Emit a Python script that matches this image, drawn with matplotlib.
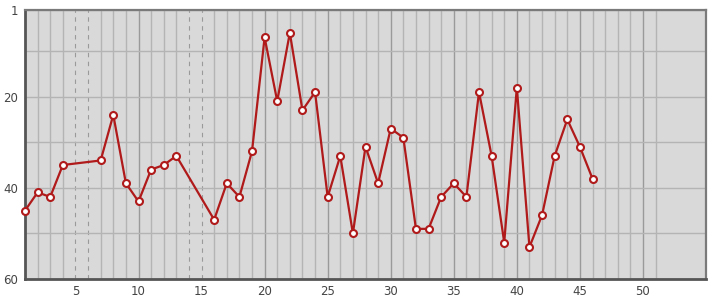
import matplotlib

matplotlib.use("Agg")
import matplotlib.pyplot as plt

# round number -> position (lower is better, axis inverted)
rounds = [1, 2, 3, 4, 7, 8, 9, 10, 11, 12, 13, 16, 17, 18, 19, 20, 21, 22, 23, 24,
          25, 26, 27, 28, 29, 30, 31, 32, 33, 34, 35, 36, 37, 38, 39, 40, 41, 42,
          43, 44, 45, 46]
positions = [45, 41, 42, 35, 34, 24, 39, 43, 36, 35, 33, 47, 39, 42, 32, 7, 21, 6, 23, 19,
             42, 33, 50, 31, 39, 27, 29, 49, 49, 42, 39, 42, 19, 33, 52, 18, 53, 46,
             33, 25, 31, 38]
x_ticks = [5, 10, 15, 20, 25, 30, 35, 40, 45, 50]
y_ticks = [1, 20, 40, 60]
y_grid = [10, 30, 50]
last_round = 51

# rounds skipped inside the played range get a dashed marker line
skipped = [r for r in range(min(rounds), max(rounds)) if r not in rounds]

fig = plt.figure(figsize=(7.15, 3.0), dpi=100)
ax = fig.add_axes([25 / 715, 21 / 300, 681 / 715, 269 / 300])
ax.set_facecolor("#d9d9d9")

for r in range(1, last_round + 1):
    if r in skipped:
        ax.axvline(r, color="#9a9a9a", linewidth=0.8, linestyle=(0, (4, 4)), zorder=1)
    elif r % 5 == 0:
        ax.axvline(r, color="#9a9a9a", linewidth=1.0, zorder=1)
    else:
        ax.axvline(r, color="#b4b4b4", linewidth=1.0, zorder=1)
for v in y_grid + y_ticks:
    ax.axhline(v, color="#b4b4b4", linewidth=1.0, zorder=1)

ax.plot(rounds, positions, color="#b01a1a", linewidth=1.6, marker="o",
        markersize=5, markerfacecolor="white", markeredgecolor="#b01a1a",
        markeredgewidth=1.5, zorder=3, clip_on=False)

ax.set_xlim(1, 55)
ax.set_ylim(60, 1)
ax.set_xticks(x_ticks)
ax.set_yticks(y_ticks)
ax.tick_params(length=0, labelsize=8.5, colors="#444444", pad=4)
ax.tick_params(axis="y", pad=5)

for side in ("top", "right"):
    ax.spines[side].set_color("#7a7a7a")
    ax.spines[side].set_linewidth(1.6)
for side in ("left", "bottom"):
    ax.spines[side].set_color("#555555")
    ax.spines[side].set_linewidth(2.0)

fig.savefig("out.png", dpi=100, facecolor="white")
